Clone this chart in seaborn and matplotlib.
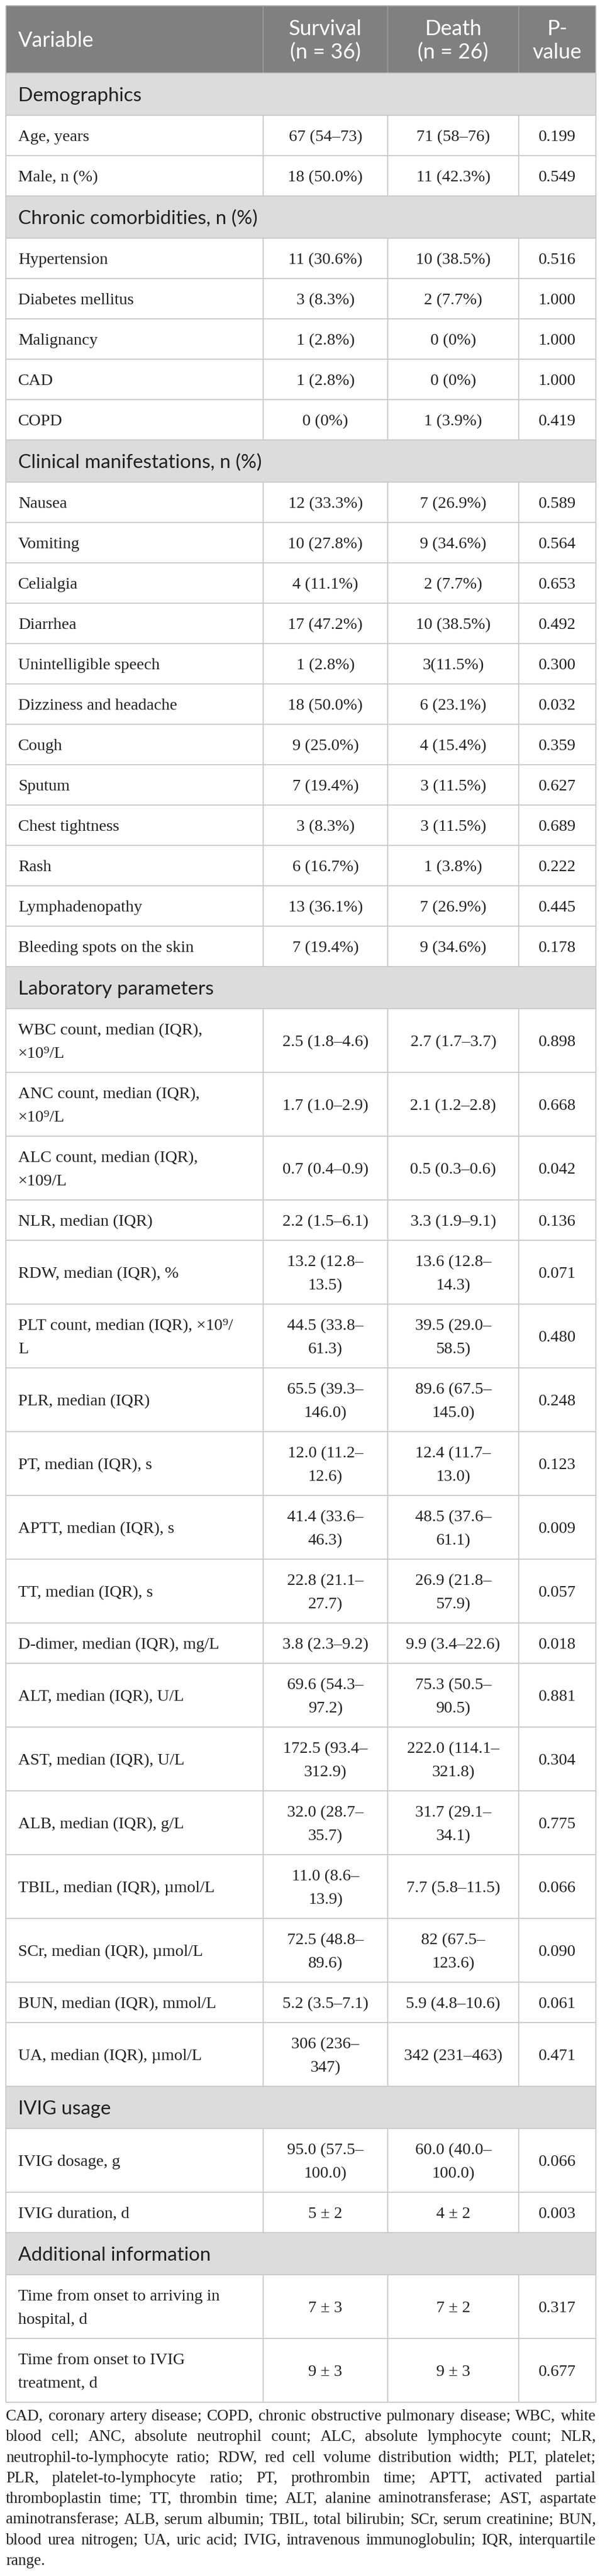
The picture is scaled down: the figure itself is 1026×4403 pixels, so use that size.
import matplotlib
matplotlib.use("Agg")
import matplotlib.pyplot as plt
import seaborn as sns

# table content
header_labels = ["Variable", "Survival\n(n = 36)", "Death\n(n = 26)", "P-\nvalue"]

section_names = [
    "Demographics",
    "Chronic comorbidities, n (%)",
    "Clinical manifestations, n (%)",
    "Laboratory parameters",
    "IVIG usage",
    "Additional information",
]
section_sizes = [2, 5, 12, 18, 2, 2]

variables = [
    "Age, years", "Male, n (%)",
    "Hypertension", "Diabetes mellitus", "Malignancy", "CAD", "COPD",
    "Nausea", "Vomiting", "Celialgia", "Diarrhea", "Unintelligible speech",
    "Dizziness and headache", "Cough", "Sputum", "Chest tightness", "Rash",
    "Lymphadenopathy", "Bleeding spots on the skin",
    "WBC count, median (IQR),\n×10⁹/L", "ANC count, median (IQR),\n×10⁹/L",
    "ALC count, median (IQR),\n×109/L", "NLR, median (IQR)",
    "RDW, median (IQR), %", "PLT count, median (IQR), ×10⁹/\nL",
    "PLR, median (IQR)", "PT, median (IQR), s", "APTT, median (IQR), s",
    "TT, median (IQR), s", "D-dimer, median (IQR), mg/L",
    "ALT, median (IQR), U/L", "AST, median (IQR), U/L",
    "ALB, median (IQR), g/L", "TBIL, median (IQR), µmol/L",
    "SCr, median (IQR), µmol/L", "BUN, median (IQR), mmol/L",
    "UA, median (IQR), µmol/L",
    "IVIG dosage, g", "IVIG duration, d",
    "Time from onset to arriving in\nhospital, d",
    "Time from onset to IVIG\ntreatment, d",
]

survival = [
    "67 (54–73)", "18 (50.0%)",
    "11 (30.6%)", "3 (8.3%)", "1 (2.8%)", "1 (2.8%)", "0 (0%)",
    "12 (33.3%)", "10 (27.8%)", "4 (11.1%)", "17 (47.2%)", "1 (2.8%)",
    "18 (50.0%)", "9 (25.0%)", "7 (19.4%)", "3 (8.3%)", "6 (16.7%)",
    "13 (36.1%)", "7 (19.4%)",
    "2.5 (1.8–4.6)", "1.7 (1.0–2.9)", "0.7 (0.4–0.9)", "2.2 (1.5–6.1)",
    "13.2 (12.8–\n13.5)", "44.5 (33.8–\n61.3)", "65.5 (39.3–\n146.0)",
    "12.0 (11.2–\n12.6)", "41.4 (33.6–\n46.3)", "22.8 (21.1–\n27.7)",
    "3.8 (2.3–9.2)", "69.6 (54.3–\n97.2)", "172.5 (93.4–\n312.9)",
    "32.0 (28.7–\n35.7)", "11.0 (8.6–\n13.9)", "72.5 (48.8–\n89.6)",
    "5.2 (3.5–7.1)", "306 (236–\n347)",
    "95.0 (57.5–\n100.0)", "5 ± 2",
    "7 ± 3", "9 ± 3",
]

death = [
    "71 (58–76)", "11 (42.3%)",
    "10 (38.5%)", "2 (7.7%)", "0 (0%)", "0 (0%)", "1 (3.9%)",
    "7 (26.9%)", "9 (34.6%)", "2 (7.7%)", "10 (38.5%)", "3(11.5%)",
    "6 (23.1%)", "4 (15.4%)", "3 (11.5%)", "3 (11.5%)", "1 (3.8%)",
    "7 (26.9%)", "9 (34.6%)",
    "2.7 (1.7–3.7)", "2.1 (1.2–2.8)", "0.5 (0.3–0.6)", "3.3 (1.9–9.1)",
    "13.6 (12.8–\n14.3)", "39.5 (29.0–\n58.5)", "89.6 (67.5–\n145.0)",
    "12.4 (11.7–\n13.0)", "48.5 (37.6–\n61.1)", "26.9 (21.8–\n57.9)",
    "9.9 (3.4–22.6)", "75.3 (50.5–\n90.5)", "222.0 (114.1–\n321.8)",
    "31.7 (29.1–\n34.1)", "7.7 (5.8–11.5)", "82 (67.5–\n123.6)",
    "5.9 (4.8–10.6)", "342 (231–463)",
    "60.0 (40.0–\n100.0)", "4 ± 2",
    "7 ± 2", "9 ± 3",
]

p_values = [
    0.199, 0.549,
    0.516, 1.000, 1.000, 1.000, 0.419,
    0.589, 0.564, 0.653, 0.492, 0.300, 0.032, 0.359, 0.627, 0.689, 0.222,
    0.445, 0.178,
    0.898, 0.668, 0.042, 0.136, 0.071, 0.480, 0.248, 0.123, 0.009, 0.057,
    0.018, 0.881, 0.304, 0.775, 0.066, 0.090, 0.061, 0.471,
    0.066, 0.003,
    0.317, 0.677,
]

footnote_lines = [
    "CAD, coronary artery disease; COPD, chronic obstructive pulmonary disease; WBC, white",
    "blood cell; ANC, absolute neutrophil count; ALC, absolute lymphocyte count; NLR,",
    "neutrophil-to-lymphocyte ratio; RDW, red cell volume distribution width; PLT, platelet;",
    "PLR, platelet-to-lymphocyte ratio; PT, prothrombin time; APTT, activated partial",
    "thromboplastin time; TT, thrombin time; ALT, alanine aminotransferase; AST, aspartate",
    "aminotransferase; ALB, serum albumin; TBIL, total bilirubin; SCr, serum creatinine; BUN,",
    "blood urea nitrogen; UA, uric acid; IVIG, intravenous immunoglobulin; IQR, interquartile",
    "range.",
]

sns.set_theme(style="white")
SERIF = ["Liberation Serif", "DejaVu Serif"]
SANS = ["Lato", "DejaVu Sans"]
plt.rcParams["font.family"] = SERIF

W, H = 1026, 4403
fig = plt.figure(figsize=(W / 100, H / 100), dpi=100)
ax = fig.add_axes([0, 0, 1, 1])
ax.set_xlim(0, W)
ax.set_ylim(H, 0)
ax.axis("off")

col_edges = [10, 450, 663, 887, 1019]
x_left, x_right = col_edges[0], col_edges[-1]
text_x = 31
ink = "#231f20"
grid = "#c8c8c8"

# build row list: (kind, cells, top, height)
rows = []
y = 10
rows.append(("header", header_labels, y, 115))
y += 115
i = 0
for name, n in zip(section_names, section_sizes):
    rows.append(("section", [name], y, 72))
    y += 72
    for k in range(i, i + n):
        cells = [variables[k], survival[k], death[k], f"{p_values[k]:.3f}"]
        nlines = max(c.count("\n") + 1 for c in cells)
        h = 69 if nlines == 1 else 109
        rows.append(("body", cells, y, h))
        y += h
    i += n
table_bottom = y

# background bands
colors = {"header": "#808080", "section": "#dcdcdc", "body": "white"}
ax.barh([r[2] + r[3] / 2 for r in rows], x_right - x_left,
        height=[r[3] for r in rows], left=x_left,
        color=[colors[r[0]] for r in rows], edgecolor="none")


def put_lines(x, yc, text, ha, size, family, color, cap, gap=40):
    lines = text.split("\n")
    n = len(lines)
    for j, line in enumerate(lines):
        yl = yc + (j - (n - 1) / 2) * gap
        ax.text(x, yl + cap / 2, line, ha=ha, va="baseline", fontsize=size,
                family=family, color=color)


for kind, cells, top, h in rows:
    yc = top + h / 2
    # row separators
    ax.hlines(top, x_left, x_right, color="#a9a9a9" if kind == "header" else grid, lw=1.3)
    if kind == "header":
        ax.vlines(col_edges[1:4], top, top + h, color="#a0a0a0", lw=1.1)
        put_lines(text_x, yc, cells[0], "left", 26, SANS, "white", 26)
        for c in range(1, 4):
            cx = (col_edges[c] + col_edges[c + 1]) / 2
            put_lines(cx, yc, cells[c], "center", 26, SANS, "white", 26)
    elif kind == "section":
        put_lines(text_x, yc, cells[0], "left", 24, SANS, ink, 24)
    else:
        ax.vlines(col_edges[1:4], top, top + h, color=grid, lw=1.3)
        put_lines(text_x, yc, cells[0], "left", 20.5, SERIF, ink, 19)
        for c in range(1, 4):
            cx = (col_edges[c] + col_edges[c + 1]) / 2
            put_lines(cx, yc, cells[c], "center", 20.5, SERIF, ink, 19)

ax.hlines(table_bottom, x_left, x_right, color=grid, lw=1.3)
ax.vlines([x_left, x_right], 10, table_bottom, color=grid, lw=1.3)

# justified footnote
fig.canvas.draw()
renderer = fig.canvas.get_renderer()
base0, step = 4137, 35.3
for li, line in enumerate(footnote_lines):
    yb = base0 + li * step
    words = line.split(" ")
    texts = [ax.text(0, yb, w, ha="left", va="baseline", fontsize=19.5,
                     family=SERIF, color=ink) for w in words]
    widths = [t.get_window_extent(renderer).width for t in texts]
    last = li == len(footnote_lines) - 1
    if last or len(words) == 1:
        space = 6
    else:
        space = (x_right - x_left - sum(widths)) / (len(words) - 1)
    x = x_left
    for t, w in zip(texts, widths):
        t.set_x(x)
        x += w + space

fig.savefig("out.png", dpi=100)
